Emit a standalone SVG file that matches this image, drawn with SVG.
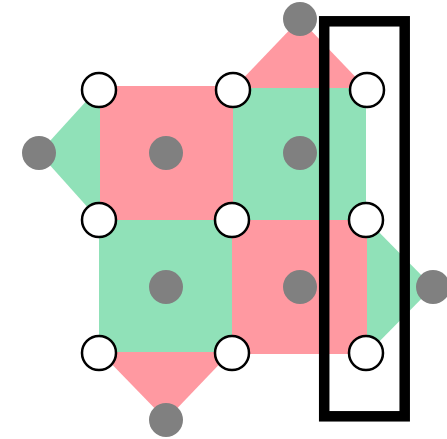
<svg xmlns="http://www.w3.org/2000/svg" width="447" height="439" viewBox="0 0 447 439">
<style>
.pink{fill:#FF99A1}
.green{fill:#90E1B8}
.gray{fill:#808080}
.white{fill:#ffffff;stroke:#000000;stroke-width:2.5}
</style>
<rect width="447" height="439" fill="#ffffff"/>
<g id="faces">
<polygon class="green" points="101,86 100,86 39,153 99,220 101,220"/>
<polygon class="pink" points="233,89 300,19 367,89"/>
<polygon class="green" points="366,220 367,220 433,287 367,354 366,354"/>
<polygon class="pink" points="99,351 232,351 166,420"/>
<rect class="pink" x="100" y="86" width="133" height="134"/>
<rect class="green" x="233" y="88" width="133" height="132"/>
<rect class="green" x="99" y="220" width="133" height="132"/>
<rect class="pink" x="232" y="220" width="135" height="134"/>
</g>
<g id="centers">
<circle id="c1" class="gray" cx="166" cy="153" r="17"/>
<circle id="c2" class="gray" cx="300" cy="153" r="17"/>
<circle id="c3" class="gray" cx="166" cy="287" r="17"/>
<circle id="c4" class="gray" cx="300" cy="287" r="17"/>
<circle id="o1" class="gray" cx="39" cy="153" r="17"/>
<circle id="o2" class="gray" cx="300" cy="19" r="17"/>
<circle id="o3" class="gray" cx="433" cy="287" r="17"/>
<circle id="o4" class="gray" cx="166" cy="420" r="17"/>
</g>
<g id="vertices">
<circle id="v11" class="white" cx="99" cy="90" r="17"/>
<circle id="v12" class="white" cx="233" cy="90" r="17"/>
<circle id="v13" class="white" cx="367" cy="90" r="17"/>
<circle id="v21" class="white" cx="99" cy="220" r="17"/>
<circle id="v22" class="white" cx="232" cy="220" r="17"/>
<circle id="v23" class="white" cx="366" cy="220" r="17"/>
<circle id="v31" class="white" cx="99" cy="353" r="17"/>
<circle id="v32" class="white" cx="232" cy="353" r="17"/>
<circle id="v33" class="white" cx="366" cy="353" r="17"/>
</g>
<g id="highlight">
<rect x="324.2" y="21.3" width="80.5" height="395" fill="none" stroke="#000000" stroke-width="10.5"/>
</g>
</svg>
